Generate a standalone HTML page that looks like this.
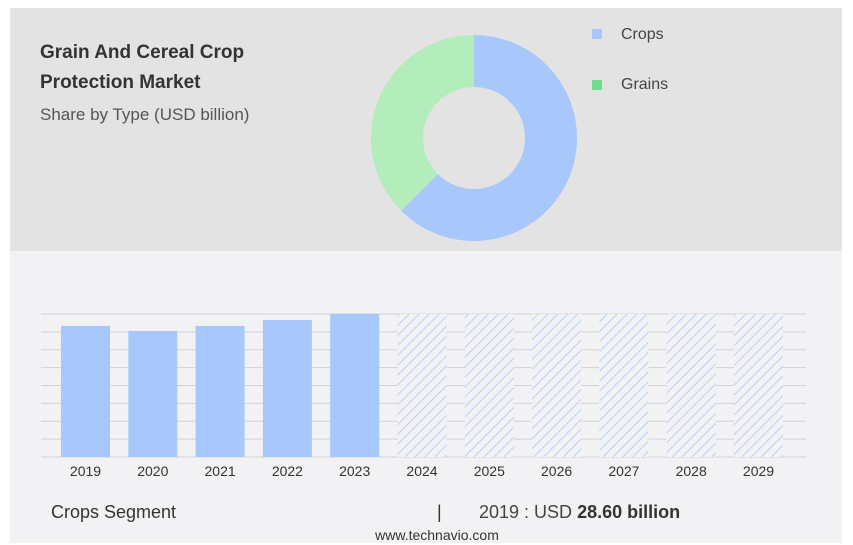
<!DOCTYPE html>
<html><head><meta charset="utf-8"><style>
html,body{margin:0;padding:0;background:#fff;width:853px;height:545px;overflow:hidden;font-family:"Liberation Sans",sans-serif;}
svg text{font-family:"Liberation Sans",sans-serif;}
</style></head><body>
<svg id="chart" width="853" height="545" viewBox="0 0 853 545">
<defs>
<pattern id="hatch" patternUnits="userSpaceOnUse" width="7" height="7" patternTransform="rotate(45)">
<rect width="7" height="7" fill="#f2f2f4"/>
<line x1="0" y1="0" x2="0" y2="7" stroke="#a9c8f5" stroke-width="1.6"/>
</pattern>
</defs>
<rect x="10" y="8" width="832" height="243" fill="#e3e3e3"/>
<rect x="10" y="251" width="832" height="292" fill="#f2f2f4"/>
<text x="40" y="58" font-size="19" font-weight="bold" fill="#333">Grain And Cereal Crop</text>
<text x="40" y="88" font-size="19" font-weight="bold" fill="#333">Protection Market</text>
<text x="40" y="120" font-size="17" fill="#555">Share by Type (USD billion)</text>
<g id="donut"></g>
<g>
<rect x="592" y="29" width="10" height="10" fill="#a8c8fb"/>
<text x="621" y="39" font-size="16" fill="#444">Crops</text>
<rect x="592" y="80" width="10" height="10" fill="#6fdc8c"/>
<text x="621" y="89" font-size="16" fill="#444">Grains</text>
</g>
<g id="bars"></g>
<text x="51" y="518" font-size="18" fill="#333">Crops Segment</text>
<text x="437" y="518" font-size="18" fill="#333">|</text>
<text x="479" y="518" font-size="18" fill="#444">2019 : USD <tspan font-weight="bold" fill="#333">28.60 billion</tspan></text>
<text x="437" y="540" font-size="14" fill="#333" text-anchor="middle">www.technavio.com</text>
</svg>
<script>
const segNames = ["Crops","Grains"];
const segShares = [62.5, 37.5];
const segColors = ["#a8c8fb","#b3edbc"];
const years = ["2019","2020","2021","2022","2023","2024","2025","2026","2027","2028","2029"];
const values = [28.6, 27.5, 28.6, 29.9, 31.2, 31.2, 31.2, 31.2, 31.2, 31.2, 31.2];
const isForecast = [false,false,false,false,false,true,true,true,true,true,true];

const NS="http://www.w3.org/2000/svg";
// donut
(function(){
  const g=document.getElementById('donut');
  const cx=474, cy=138, R=103, r=51;
  const clip=document.createElementNS(NS,'clipPath'); clip.setAttribute('id','dclip');
  const cr=document.createElementNS(NS,'rect'); cr.setAttribute('x',300);cr.setAttribute('y',0);cr.setAttribute('width',400);cr.setAttribute('height',241);
  clip.appendChild(cr); document.querySelector('svg').appendChild(clip);
  g.setAttribute('clip-path','url(#dclip)');
  const total=segShares.reduce((a,b)=>a+b,0);
  let a0=-Math.PI/2;
  segShares.forEach((v,i)=>{
    const a1=a0+v/total*2*Math.PI;
    const large=(a1-a0)>Math.PI?1:0;
    const p=(rad,a)=>[cx+rad*Math.cos(a),cy+rad*Math.sin(a)];
    const [x0,y0]=p(R,a0),[x1,y1]=p(R,a1),[x2,y2]=p(r,a1),[x3,y3]=p(r,a0);
    const path=document.createElementNS(NS,'path');
    path.setAttribute('d',`M${x0},${y0}A${R},${R} 0 ${large} 1 ${x1},${y1}L${x2},${y2}A${r},${r} 0 ${large} 0 ${x3},${y3}Z`);
    path.setAttribute('fill',segColors[i]);
    
    
    g.appendChild(path);
    a0=a1;
  });
})();
// bars
(function(){
  const g=document.getElementById('bars');
  const x0=41, x1=806, base=457, top=314, vmax=31.2;
  const y=v=>base-(v/vmax)*(base-top);
  const step=67.3, bw=49, firstX=61;
  const xb=i=>firstX+i*step;
  for(let k=0;k<=8;k++){
    const gy=base-k*(base-top)/8;
    const l=document.createElementNS(NS,'line');
    l.setAttribute('x1',x0);l.setAttribute('x2',x1);l.setAttribute('y1',gy);l.setAttribute('y2',gy);
    l.setAttribute('stroke','#d2d2d4');l.setAttribute('stroke-width','1');
    
    
    g.appendChild(l);
  }
  values.forEach((v,i)=>{
    const rc=document.createElementNS(NS,'rect');
    rc.setAttribute('x',xb(i));rc.setAttribute('y',y(v));rc.setAttribute('width',bw);rc.setAttribute('height',base-y(v));
    rc.setAttribute('fill',isForecast[i]?'url(#hatch)':'#a8c8fb');
    
    
    g.appendChild(rc);
    const t=document.createElementNS(NS,'text');
    t.setAttribute('x',xb(i)+bw/2);t.setAttribute('y',476);t.setAttribute('text-anchor','middle');
    t.setAttribute('font-size','14');t.setAttribute('fill','#333');
    t.textContent=years[i];
    
    
    g.appendChild(t);
  });
})();
</script>
</body></html>
